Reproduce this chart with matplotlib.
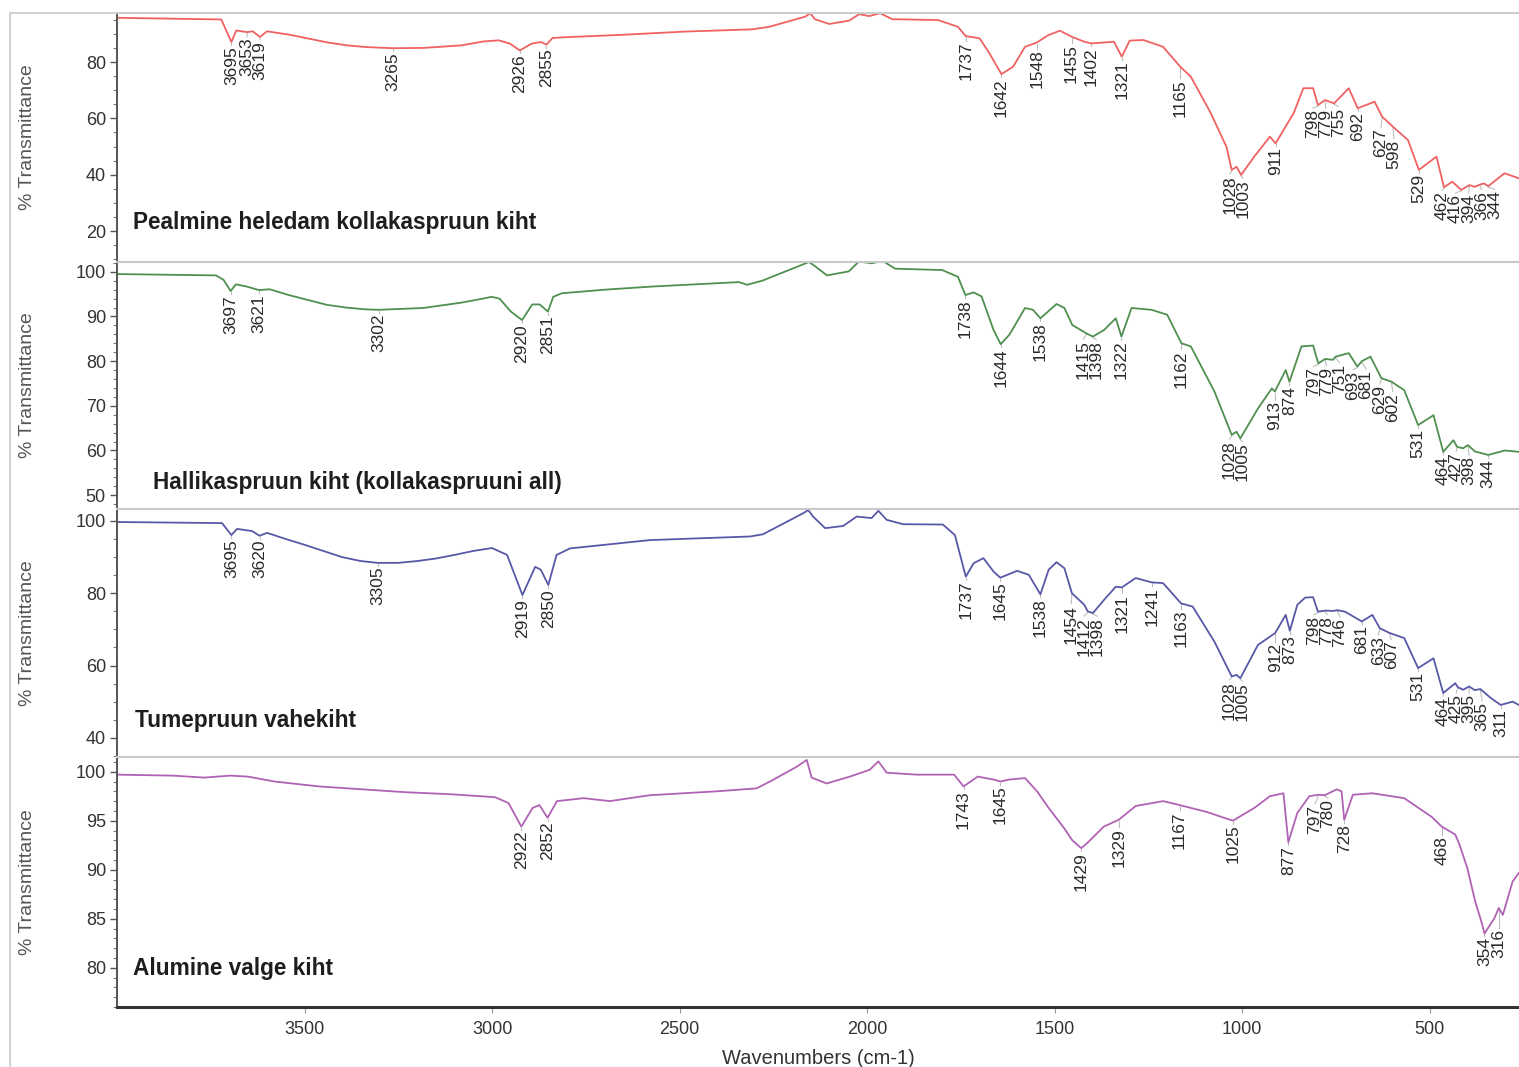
import numpy as np
import matplotlib
matplotlib.use("Agg")
import matplotlib.pyplot as plt
from matplotlib.ticker import MultipleLocator, AutoMinorLocator, FixedLocator
from matplotlib.patches import Rectangle

plt.rcParams['font.family'] = ['Liberation Sans', 'DejaVu Sans']

# ---- spektrid (lainearv cm-1, %T) ----
red_wn = [4000, 3722, 3695, 3682, 3653, 3638, 3619, 3600, 3540, 3489, 3437, 3386, 3335, 3265,
          3184, 3082, 3023, 2982, 2952, 2926, 2895, 2870, 2855, 2839, 2806, 2662, 2486, 2307,
          2261, 2165, 2152, 2139, 2101, 2048, 2021, 1995, 1965, 1933, 1811, 1758, 1737, 1700,
          1674, 1642, 1611, 1579, 1548, 1516, 1486, 1455, 1421, 1402, 1342, 1321, 1300, 1263,
          1211, 1165, 1137, 1084, 1042, 1028, 1015, 1003, 968, 926, 911, 863, 837, 811, 798,
          779, 755, 716, 692, 647, 627, 598, 558, 529, 482, 462, 440, 416, 394, 380, 366, 355,
          344, 301, 262]
red_t = [95.7, 95.1, 87.1, 91.2, 90.6, 90.9, 88.9, 90.9, 89.7, 88.3, 86.9, 85.9, 85.3, 84.9,
         85.0, 85.9, 87.3, 87.7, 86.5, 84.1, 86.5, 87.1, 86.2, 88.5, 88.8, 89.6, 90.8, 91.6,
         92.5, 96.1, 97.3, 95.2, 93.5, 94.7, 97.0, 96.3, 97.3, 95.2, 94.9, 92.5, 89.2, 88.4,
         83.1, 75.7, 78.3, 85.4, 86.9, 89.6, 91.1, 89.0, 87.2, 86.6, 87.2, 81.9, 87.6, 87.8,
         85.4, 78.3, 74.8, 61.9, 49.9, 41.7, 42.8, 39.9, 46.4, 53.5, 51.1, 61.8, 70.7, 70.7, 64.7,
         66.5, 65.3, 70.7, 63.6, 65.9, 60.6, 57.0, 52.3, 41.7, 46.4, 35.5, 37.5, 34.6, 36.3, 35.7,
         36.5, 36.9, 35.9, 40.5, 38.7]

green_wn = [4000, 3736, 3716, 3697, 3683, 3654, 3621, 3593, 3542, 3491, 3440, 3389, 3338, 3302,
            3184, 3133, 3082, 3031, 3001, 2980, 2950, 2920, 2893, 2873, 2851, 2837, 2814, 2700,
            2574, 2342, 2320, 2280, 2155, 2138, 2107, 2049, 2022, 1987, 1960, 1925, 1800, 1758,
            1738, 1716, 1695, 1663, 1644, 1621, 1579, 1558, 1538, 1495, 1474, 1453, 1415, 1398,
            1368, 1337, 1322, 1295, 1242, 1200, 1162, 1137, 1074, 1028, 1015, 1005, 958, 921,
            913, 884, 874, 842, 811, 797, 779, 758, 751, 716, 693, 681, 658, 629, 602, 568, 531,
            490, 464, 437, 427, 411, 398, 380, 344, 300, 262]
green_t = [99.5, 99.2, 98.2, 95.7, 97.2, 96.7, 95.9, 96.1, 94.8, 93.7, 92.6, 92.0, 91.6, 91.5,
           91.9, 92.5, 93.1, 93.9, 94.4, 94.0, 91.1, 89.2, 92.7, 92.7, 91.1, 94.4, 95.2, 96.0,
           96.7, 97.7, 97.1, 98.0, 102.2, 101.2, 99.2, 100.1, 102.3, 101.9, 102.5, 100.7, 100.4, 98.9,
           94.8, 95.4, 94.5, 87.0, 83.8, 85.9, 91.9, 91.5, 89.6, 92.8, 91.9, 88.1, 86.2, 85.5,
           87.0, 89.6, 85.5, 91.9, 91.5, 90.4, 84.0, 83.3, 73.2, 63.5, 64.2, 62.7, 69.4, 73.9,
           73.2, 78.0, 75.4, 83.3, 83.5, 79.5, 80.5, 80.3, 81.0, 81.8, 78.8, 80.0, 81.0, 76.2,
           75.4, 73.5, 65.7, 67.9, 59.7, 62.3, 60.8, 60.5, 61.2, 59.8, 59.0, 60.0, 59.7]

blue_wn = [4000, 3720, 3695, 3680, 3640, 3620, 3600, 3550, 3500, 3450, 3400, 3350, 3305, 3250,
           3200, 3150, 3100, 3050, 3000, 2960, 2919, 2885, 2870, 2850, 2828, 2792, 2579, 2312,
           2278, 2171, 2157, 2144, 2112, 2064, 2028, 1988, 1970, 1948, 1904, 1798, 1766, 1737,
           1716, 1690, 1663, 1645, 1600, 1569, 1538, 1516, 1495, 1474, 1454, 1421, 1412, 1398,
           1368, 1337, 1321, 1284, 1241, 1211, 1163, 1132, 1074, 1028, 1015, 1005, 958, 912, 884,
           873, 853, 832, 811, 798, 778, 758, 746, 726, 681, 653, 633, 607, 568, 531, 490, 464,
           432, 425, 411, 395, 380, 365, 337, 311, 279, 262]
blue_t = [99.7, 99.4, 96.1, 97.8, 97.2, 95.9, 96.7, 95.0, 93.4, 91.7, 90.0, 88.9, 88.4, 88.4,
          88.9, 89.6, 90.6, 91.7, 92.5, 90.6, 79.5, 87.3, 86.5, 82.3, 90.6, 92.4, 94.7, 95.7,
          96.3, 102.1, 103.0, 101.2, 98.0, 98.6, 101.2, 100.8, 102.8, 100.3, 99.1, 99.0, 96.1, 84.6,
          88.3, 89.7, 86.0, 84.3, 86.2, 85.1, 79.7, 86.5, 88.6, 86.9, 80.0, 76.8, 75.0, 74.5,
          78.2, 81.8, 81.6, 84.2, 83.0, 82.8, 77.2, 76.3, 66.6, 57.0, 57.4, 56.5, 65.7, 69.0, 74.0,
          69.6, 76.8, 78.8, 78.9, 74.9, 75.2, 75.1, 75.3, 74.9, 72.2, 74.0, 70.3, 69.0, 67.6, 59.3,
          62.0, 52.4, 55.1, 54.0, 53.3, 54.2, 53.2, 53.5, 51.0, 49.1, 50.0, 49.1]

purple_wn = [4000, 3851, 3768, 3698, 3651, 3580, 3462, 3345, 3227, 3109, 2992, 2956, 2922, 2892,
             2874, 2852, 2827, 2756, 2686, 2580, 2401, 2295, 2259, 2188, 2161, 2148, 2108, 2046,
             1993, 1970, 1948, 1868, 1768, 1743, 1705, 1663, 1645, 1621, 1579, 1547, 1516, 1474,
             1453, 1429, 1411, 1390, 1369, 1329, 1284, 1211, 1167, 1095, 1025, 968, 926, 890, 877,
             853, 821, 797, 780, 748, 735, 728, 705, 653, 568, 495, 468, 432, 421, 400, 379, 363,
             354, 327, 316, 305, 279, 262]
purple_t = [99.7, 99.6, 99.4, 99.6, 99.5, 99.0, 98.5, 98.2, 97.9, 97.7, 97.4, 96.8, 94.4, 96.3,
            96.6, 95.3, 97.0, 97.3, 97.0, 97.6, 98.0, 98.3, 99.0, 100.5, 101.2, 99.4, 98.8, 99.5,
            100.2, 101.05, 99.9, 99.7, 99.7, 98.5, 99.5, 99.2, 99.0, 99.2, 99.35, 98.0, 96.3, 94.2,
            93.0, 92.2, 92.8, 93.6, 94.4, 95.1, 96.5, 97.0, 96.6, 95.9, 95.0, 96.3, 97.5, 97.8, 92.8,
            95.8, 97.5, 97.65, 97.6, 98.2, 98.0, 95.1, 97.65, 97.8, 97.3, 95.4, 94.4, 93.6, 92.6,
            90.2, 86.8, 84.8, 83.5, 85.1, 86.1, 85.4, 88.8, 89.7]

# ---- märgitud piigid ----
red_peaks = [3695, 3653, 3619, 3265, 2926, 2855, 1737, 1642, 1548, 1455, 1402, 1321, 1165,
             1028, 1003, 911, 798, 779, 755, 692, 627, 598, 529, 462, 416, 394, 366, 344]
green_peaks = [3697, 3621, 3302, 2920, 2851, 1738, 1644, 1538, 1415, 1398, 1322, 1162, 1028,
               1005, 913, 874, 797, 779, 751, 693, 681, 629, 602, 531, 464, 427, 398, 344]
blue_peaks = [3695, 3620, 3305, 2919, 2850, 1737, 1645, 1538, 1454, 1412, 1398, 1321, 1241,
              1163, 1028, 1005, 912, 873, 798, 778, 746, 681, 633, 607, 531, 464, 425, 395, 365, 311]
purple_peaks = [2922, 2852, 1743, 1645, 1429, 1329, 1167, 1025, 877, 797, 780, 728, 468, 354, 316]

titles = ["Pealmine heledam kollakaspruun kiht",
          "Hallikaspruun kiht (kollakaspruuni all)",
          "Tumepruun vahekiht",
          "Alumine valge kiht"]
colors = ["#f06262", "#4f904f", "#5858a8", "#b062b4"]

W, H = 1519, 1067
fig = plt.figure(figsize=(W / 100, H / 100), dpi=100)

# ääris ümber joonise
fig.add_artist(Rectangle((10 / W, -0.05), 1.2, 1 - 13 / H + 0.05, transform=fig.transFigure,
                         fill=False, edgecolor="#cfcfcf", lw=1.3))

AX_L = 117
panels = [(13, 262), (262, 509), (509, 757), (757, 1007)]
ylims = [(9.0, 97.4), (46.9, 102.2), (34.7, 103.3), (76.0, 101.5)]
majors = [20, 10, 20, 5]
minors = [4, 5, 4, 5]
title_pos = [(0.0114, 0.16), (0.0257, 0.109), (0.0128, 0.149), (0.0114, 0.156)]
series = [(red_wn, red_t, red_peaks), (green_wn, green_t, green_peaks),
          (blue_wn, blue_t, blue_peaks), (purple_wn, purple_t, purple_peaks)]

LABEL_W = 13.0   # rotated label thickness in px
GAP = 4.0


def label_peaks(ax, wn, tr, peaks):
    wa = np.asarray(wn, float)[::-1]
    ta = np.asarray(tr, float)[::-1]
    inv = ax.transData.inverted()
    pk = np.array(sorted(peaks, reverse=True))
    P = ax.transData.transform(np.column_stack([pk, np.interp(pk, wa, ta)]))
    xs, ys = P[:, 0], P[:, 1]
    lx = xs.copy()
    for _ in range(800):
        moved = False
        for i in range(len(lx) - 1):
            d = lx[i + 1] - lx[i]
            if d < LABEL_W - 1e-3:
                s = (LABEL_W - d) / 2
                lx[i] -= s
                lx[i + 1] += s
                moved = True
        if not moved:
            break
    # curve sampled along screen x
    bb = ax.get_window_extent()
    gx = np.arange(bb.x0, bb.x1 + 40)
    gw = inv.transform(np.column_stack([gx, np.zeros_like(gx)]))[:, 0]
    gy = ax.transData.transform(np.column_stack([gw, np.interp(gw, wa, ta)]))[:, 1]
    for p, x0, y0, x1 in zip(pk, xs, ys, lx):
        m = np.abs(gx - x1) <= LABEL_W / 2 + 3
        low = min(gy[m].min() if m.any() else y0, y0)
        top = low - GAP
        a = inv.transform((x0, y0 - 1))
        b = inv.transform((x1, top + 1))
        ax.plot([a[0], b[0]], [a[1], b[1]], color="#bdbdbd", lw=0.8, zorder=1, clip_on=False)
        t = inv.transform((x1, top))
        ax.text(t[0], t[1], f"{int(p)}", rotation=90, ha="center", va="top", fontsize=12.5,
                color="#2a2a2a", zorder=3)


for k, ((top, bot), (wn, tr, pks)) in enumerate(zip(panels, series)):
    ax = fig.add_axes([AX_L / W, 1 - bot / H, (W - AX_L) / W, (bot - top) / H])
    ax.set_xlim(4000, 262)
    ax.set_ylim(*ylims[k])
    ax.plot(wn, tr, color=colors[k], lw=1.3, zorder=2)
    ax.yaxis.set_major_locator(MultipleLocator(majors[k]))
    ax.yaxis.set_minor_locator(AutoMinorLocator(minors[k]))
    ax.tick_params(axis="y", which="major", length=5, width=1, color="#555555",
                   labelsize=13, labelcolor="#333333", pad=3)
    ax.tick_params(axis="y", which="minor", length=3, width=0.8, color="#777777")
    ax.spines["right"].set_visible(False)
    ax.spines["top"].set_color("#c8c8c8")
    ax.spines["top"].set_linewidth(1.5)
    ax.spines["left"].set_color("#555555")
    ax.spines["left"].set_linewidth(1.4)
    if k < 3:
        ax.spines["bottom"].set_visible(False)
        ax.tick_params(axis="x", which="both", bottom=False, labelbottom=False)
    else:
        ax.spines["bottom"].set_color("#333333")
        ax.spines["bottom"].set_linewidth(2.2)
        ax.xaxis.set_major_locator(FixedLocator([3500, 3000, 2500, 2000, 1500, 1000, 500]))
        ax.tick_params(axis="x", which="major", length=4, color="#999999", labelsize=13,
                       labelcolor="#333333", pad=6)
        ax.set_xlabel("Wavenumbers (cm-1)", fontsize=14.5, color="#333333", labelpad=8)
    ax.set_ylabel("% Transmittance", fontsize=14, color="#555555")
    ax.yaxis.set_label_coords(-(AX_L - 36) / (W - AX_L), 0.5)
    ax.text(title_pos[k][0], title_pos[k][1], titles[k], transform=ax.transAxes, fontsize=16.3,
            fontweight="bold", color="#1e1e1e", ha="left", va="center")
    label_peaks(ax, wn, tr, pks)

fig.savefig("out.png", dpi=100)
